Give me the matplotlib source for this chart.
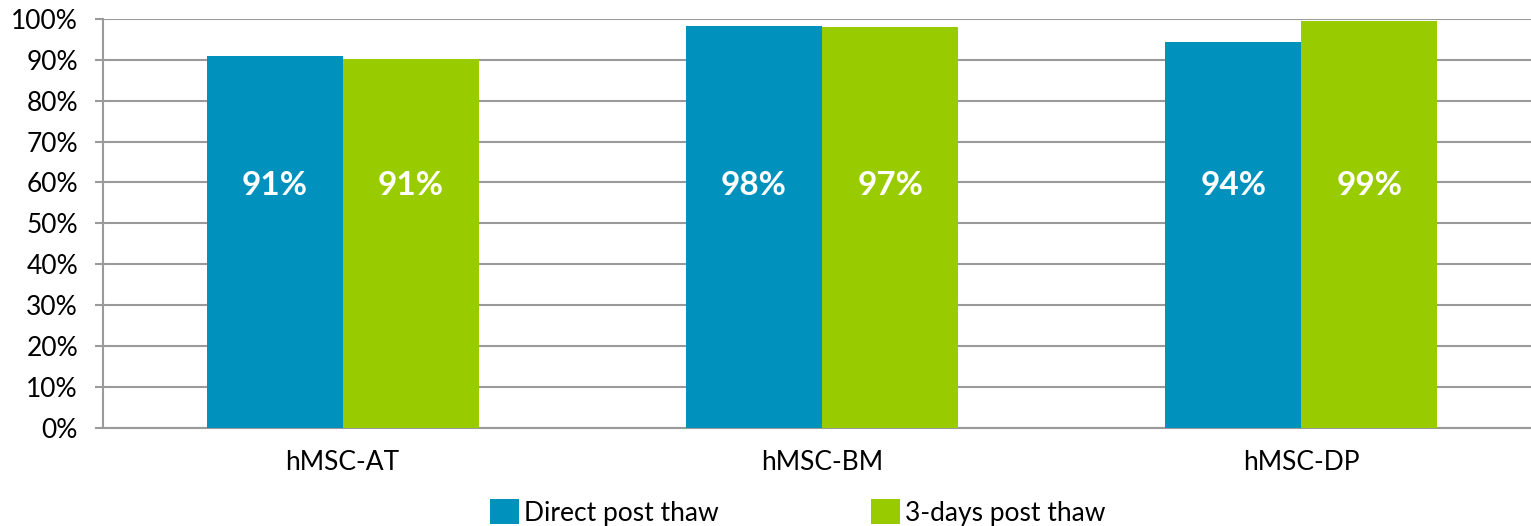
import matplotlib.pyplot as plt
import numpy as np

categories = ['hMSC-AT', 'hMSC-BM', 'hMSC-DP']
direct = [90.9, 98.2, 94.3]
three_days = [90.3, 98.1, 99.4]
direct_labels = ['91%', '98%', '94%']
three_days_labels = ['91%', '97%', '99%']

plt.rcParams['font.family'] = ['Lato', 'DejaVu Sans']
blue = '#0092bd'
green = '#99cc00'
grey = '#9a9a9a'

fig = plt.figure(figsize=(15.31, 5.26), dpi=100)
ax = fig.add_axes([103 / 1531, 1 - 427.7 / 526, 1438 / 1531, 408.7 / 526])

x = np.arange(len(categories))
w = 0.284
b1 = ax.bar(x - w / 2, direct, w, color=blue, label='Direct post thaw', zorder=3)
b2 = ax.bar(x + w / 2, three_days, w, color=green, label='3-days post thaw', zorder=3)

# value labels inside the bars
for bars, labels in [(b1, direct_labels), (b2, three_days_labels)]:
    for rect, lab in zip(bars, labels):
        ax.text(rect.get_x() + rect.get_width() / 2, 59.3, lab, ha='center', va='center',
                color='white', fontsize=24, fontweight='bold', zorder=4)

ax.set_xlim(-0.5, 2.5)
ax.set_ylim(0, 100)
ax.set_yticks(np.arange(0, 101, 10))
ax.set_yticklabels([f'{v}%' for v in range(0, 101, 10)])
ax.set_xticks(x)
ax.set_xticklabels(categories)
ax.yaxis.grid(True, color=grey, linewidth=1.5, zorder=0)
ax.tick_params(axis='y', length=6, width=1.5, color=grey, pad=12, labelsize=19)
ax.tick_params(axis='x', length=0, pad=16, labelsize=19)
for side in ['top', 'right']:
    ax.spines[side].set_visible(False)
ax.spines['left'].set_color(grey)
ax.spines['left'].set_linewidth(1.5)
ax.spines['bottom'].set_color(grey)
ax.spines['bottom'].set_linewidth(1.5)

fig.legend(loc='upper left', bbox_to_anchor=(490 / 1531, 1 - 499 / 526), ncol=2, frameon=False,
           fontsize=19, handlelength=1.1, handleheight=1.1, handletextpad=0.2,
           columnspacing=5.75, borderpad=0, borderaxespad=0)

fig.savefig('out.png', dpi=100)
